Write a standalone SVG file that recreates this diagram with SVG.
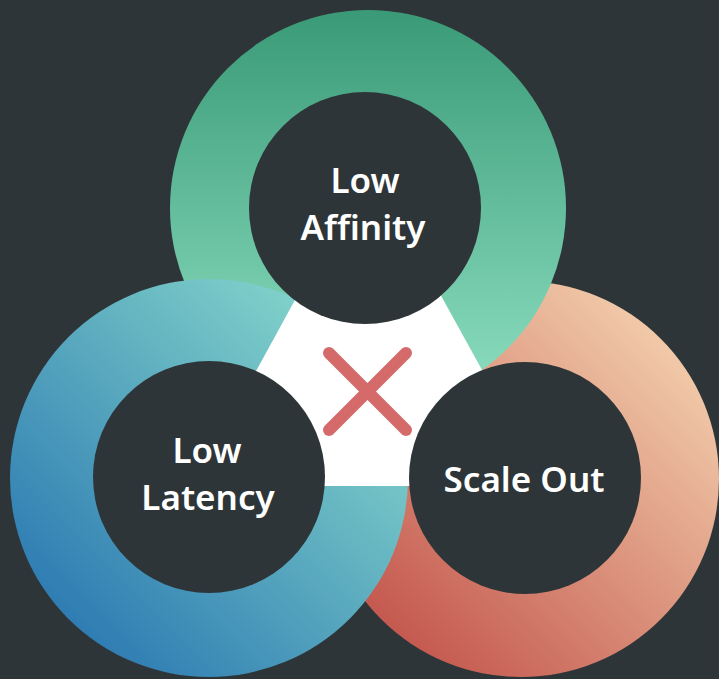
<svg xmlns="http://www.w3.org/2000/svg" width="719" height="679" viewBox="0 0 719 679">
  <defs>
    <linearGradient id="gGreen" x1="0" y1="10" x2="0" y2="406" gradientUnits="userSpaceOnUse">
      <stop offset="0" stop-color="#3a9a77"/>
      <stop offset="1" stop-color="#8ee0c2"/>
    </linearGradient>
    <linearGradient id="gBlue" x1="69" y1="617" x2="349" y2="337" gradientUnits="userSpaceOnUse">
      <stop offset="0" stop-color="#2f7db3"/>
      <stop offset="1" stop-color="#82d3ca"/>
    </linearGradient>
    <linearGradient id="gRed" x1="385" y1="618" x2="665" y2="338" gradientUnits="userSpaceOnUse">
      <stop offset="0" stop-color="#c55a50"/>
      <stop offset="1" stop-color="#f1caa9"/>
    </linearGradient>
    <style>
      .inner { fill: #2e3538; }
      .label { fill: #ffffff; font-family: "Noto Sans", "Open Sans", sans-serif; font-weight: 600; font-size: 35px; text-anchor: middle; }
      .cross { stroke: #d46a6a; stroke-width: 12; stroke-linecap: round; fill: none; }
    </style>
  </defs>
  <rect width="719" height="679" fill="#2e3538"/>
  <g id="rings">
    <circle id="ring-scale-out" cx="521" cy="479" r="198" fill="url(#gRed)"/>
    <circle id="ring-low-affinity" cx="368" cy="208" r="198" fill="url(#gGreen)"/>
    <circle id="ring-low-latency" cx="209" cy="478" r="199" fill="url(#gBlue)"/>
  </g>
  <polygon id="center-triangle" points="369,165 193,486 546,486" fill="#ffffff"/>
  <g id="node-low-affinity">
    <circle class="inner" cx="365" cy="208" r="116"/>
    <text class="label" x="365" y="193">Low</text>
    <text class="label" x="363" y="240">Affinity</text>
  </g>
  <g id="node-low-latency">
    <circle class="inner" cx="209" cy="477" r="116"/>
    <text class="label" x="207" y="463">Low</text>
    <text class="label" x="208" y="510">Latency</text>
  </g>
  <g id="node-scale-out">
    <circle class="inner" cx="525" cy="478" r="116"/>
    <text class="label" x="524" y="492">Scale Out</text>
  </g>
  <g id="connectors">
    <g id="cross">
      <line class="cross" x1="329" y1="353" x2="406" y2="430"/>
      <line class="cross" x1="406" y1="353" x2="329" y2="430"/>
    </g>
  </g>
</svg>
